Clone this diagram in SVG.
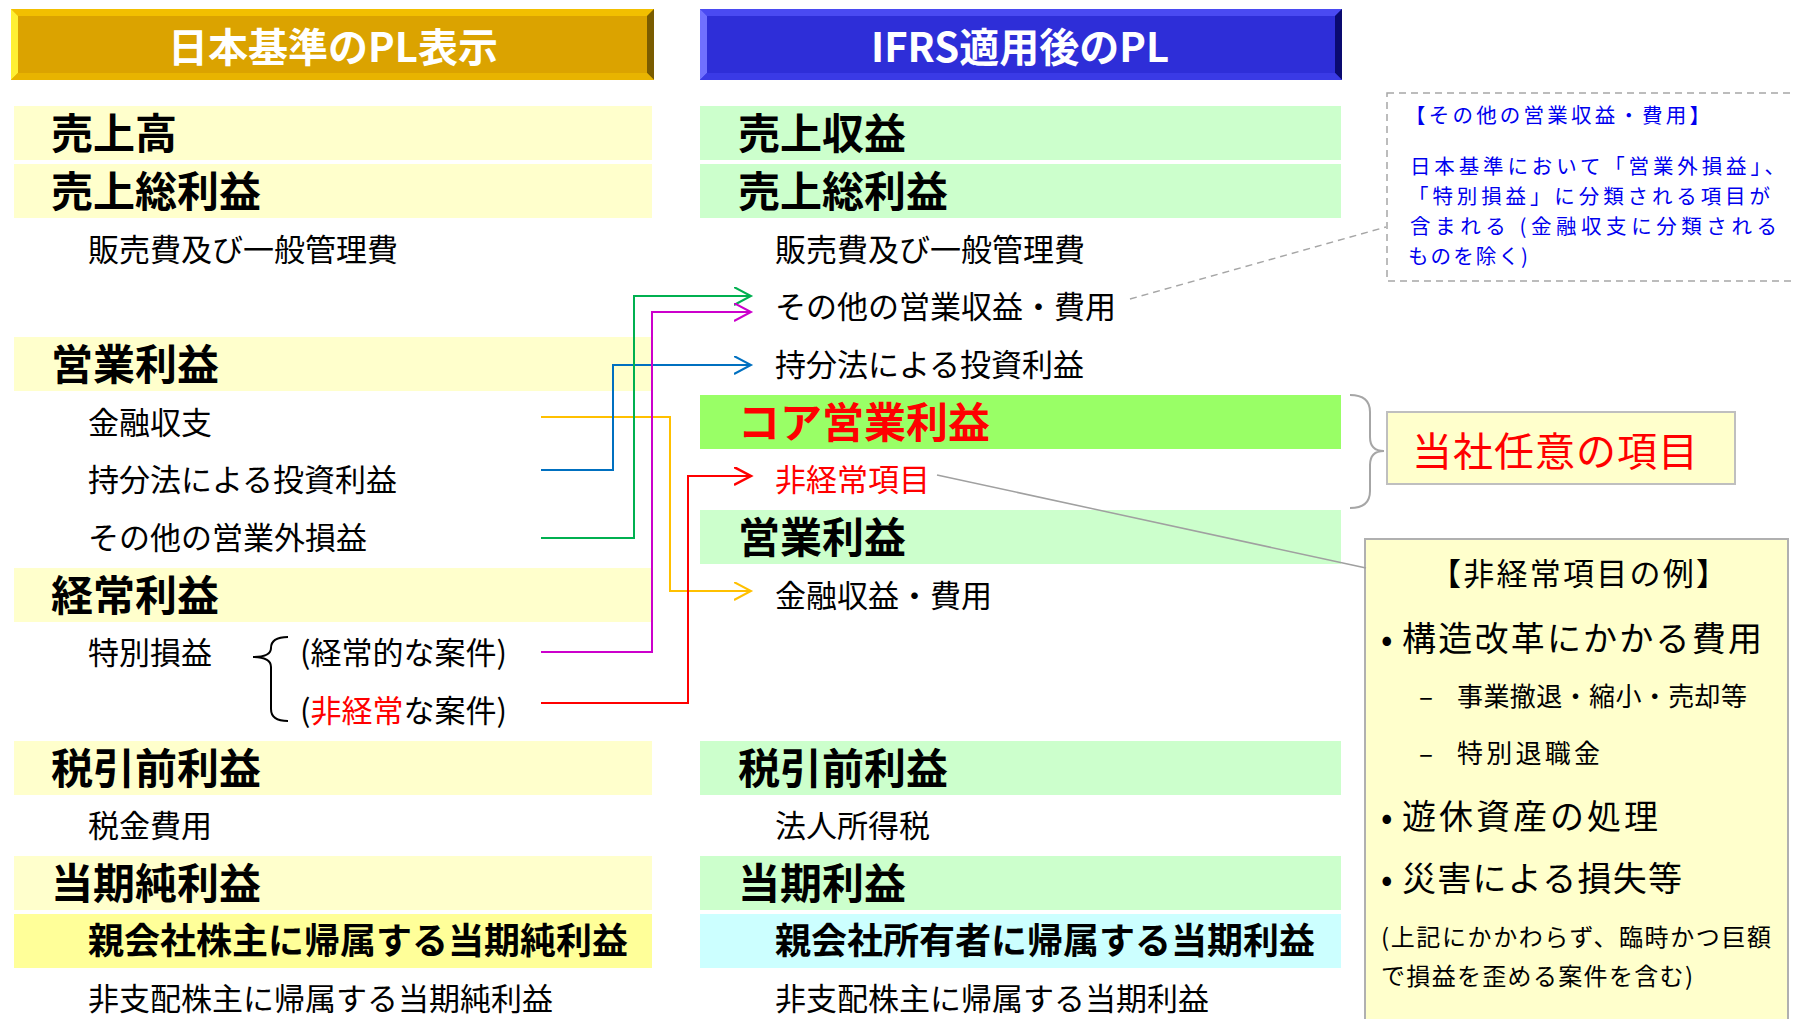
<svg xmlns="http://www.w3.org/2000/svg" width="1794" height="1019" viewBox="0 0 1794 1019">
<defs>
<style>
text{font-family:"Noto Sans CJK JP","Noto Sans CJK SC",sans-serif;fill:#000}
.hd{font-size:40px;font-weight:700;fill:#fff;text-anchor:middle}
.t{font-size:42px;font-weight:700}
.s{font-size:31px}
.m{font-size:36px;font-weight:700}
.red{fill:#ff0000}
.bl{fill:#0000ee;font-size:20.5px}
.ex1{font-size:34px}
.ex2{font-size:26px}
.ex3{font-size:24px}
.by{fill:#ffffcc}
.bg{fill:#ccffcc}
.conn{fill:none;stroke-width:2}
</style>
<marker id="aY" markerUnits="userSpaceOnUse" markerWidth="22" markerHeight="22" refX="17" refY="9" orient="auto"><path d="M0,0 L17,9 L0,18" fill="none" stroke="#ffc000" stroke-width="2"/></marker>
<marker id="aB" markerUnits="userSpaceOnUse" markerWidth="22" markerHeight="22" refX="17" refY="9" orient="auto"><path d="M0,0 L17,9 L0,18" fill="none" stroke="#0070c0" stroke-width="2"/></marker>
<marker id="aG" markerUnits="userSpaceOnUse" markerWidth="22" markerHeight="22" refX="17" refY="9" orient="auto"><path d="M0,0 L17,9 L0,18" fill="none" stroke="#00b050" stroke-width="2"/></marker>
<marker id="aM" markerUnits="userSpaceOnUse" markerWidth="22" markerHeight="22" refX="17" refY="9" orient="auto"><path d="M0,0 L17,9 L0,18" fill="none" stroke="#cc00cc" stroke-width="2"/></marker>
<marker id="aR" markerUnits="userSpaceOnUse" markerWidth="22" markerHeight="22" refX="17" refY="9" orient="auto"><path d="M0,0 L17,9 L0,18" fill="none" stroke="#ff0000" stroke-width="2.5"/></marker>
</defs>
<rect width="1794" height="1019" fill="#fff"/>

<!-- Headers -->
<g id="header-jp">
<rect x="11" y="9" width="643" height="71" fill="#dba300"/>
<polygon points="11,9 654,9 647,16 18,16" fill="#f2bf00"/>
<polygon points="11,9 18,16 18,73 11,80" fill="#fff033"/>
<polygon points="654,9 654,80 647,73 647,16" fill="#7a5c00"/>
<polygon points="11,80 18,73 647,73 654,80" fill="#e8b400"/>
<text class="hd" x="333" y="62">日本基準のPL表示</text>
</g>
<g id="header-ifrs">
<rect x="700" y="9" width="642" height="71" fill="#2e2ed8"/>
<polygon points="700,9 1342,9 1335,16 707,16" fill="#4a4af2"/>
<polygon points="700,9 707,16 707,73 700,80" fill="#7070ff"/>
<polygon points="1342,9 1342,80 1335,73 1335,16" fill="#0a0a70"/>
<polygon points="700,80 707,73 1335,73 1342,80" fill="#3a3ae6"/>
<text class="hd" x="1020" y="62">IFRS適用後のPL</text>
</g>

<!-- Left column -->
<g id="jp-sales"><rect class="by" x="14" y="106" width="638" height="54"/><text class="t" x="51" y="149">売上高</text></g>
<g id="jp-gross"><rect class="by" x="14" y="164" width="638" height="54"/><text class="t" x="51" y="207">売上総利益</text></g>
<g id="jp-sga"><text class="s" x="88" y="261">販売費及び一般管理費</text></g>
<g id="jp-op"><rect class="by" x="14" y="337" width="638" height="54"/><text class="t" x="51" y="380">営業利益</text></g>
<g id="jp-fin"><text class="s" x="88" y="434">金融収支</text></g>
<g id="jp-equity"><text class="s" x="88" y="491">持分法による投資利益</text></g>
<g id="jp-nonop"><text class="s" x="88" y="549">その他の営業外損益</text></g>
<g id="jp-ordinary"><rect class="by" x="14" y="568" width="638" height="54"/><text class="t" x="51" y="611">経常利益</text></g>
<g id="jp-special">
<text class="s" x="88" y="664">特別損益</text>
<path d="M288,637 Q271,637 271,648 Q271,657 253,657 Q271,657 271,667 L271,709 Q271,721 288,721" fill="none" stroke="#000" stroke-width="2"/>
<text class="s" x="300" y="664">(経常的な案件)</text>
<text class="s" x="300" y="722">(<tspan class="red">非経常</tspan>な案件)</text>
</g>
<g id="jp-pretax"><rect class="by" x="14" y="741" width="638" height="54"/><text class="t" x="51" y="784">税引前利益</text></g>
<g id="jp-tax"><text class="s" x="88" y="837">税金費用</text></g>
<g id="jp-net"><rect class="by" x="14" y="856" width="638" height="54"/><text class="t" x="51" y="899">当期純利益</text></g>
<g id="jp-parent"><rect x="14" y="914" width="638" height="54" fill="#ffff99"/><text class="m" x="88" y="954">親会社株主に帰属する当期純利益</text></g>
<g id="jp-nci"><text class="s" x="88" y="1010">非支配株主に帰属する当期純利益</text></g>

<!-- Right column -->
<g id="ifrs-revenue"><rect class="bg" x="700" y="106" width="641" height="54"/><text class="t" x="738" y="149">売上収益</text></g>
<g id="ifrs-gross"><rect class="bg" x="700" y="164" width="641" height="54"/><text class="t" x="738" y="207">売上総利益</text></g>
<g id="ifrs-sga"><text class="s" x="775" y="261">販売費及び一般管理費</text></g>
<g id="ifrs-otherop"><text class="s" x="775" y="318">その他の営業収益・費用</text></g>
<g id="ifrs-equity"><text class="s" x="775" y="376">持分法による投資利益</text></g>
<g id="ifrs-core"><rect x="700" y="395" width="641" height="54" fill="#99ff66"/><text class="t red" x="738" y="438">コア営業利益</text></g>
<g id="ifrs-nonrec"><text class="s red" x="775" y="491">非経常項目</text></g>
<g id="ifrs-op"><rect class="bg" x="700" y="510" width="641" height="54"/><text class="t" x="738" y="553">営業利益</text></g>
<g id="ifrs-fin"><text class="s" x="775" y="607">金融収益・費用</text></g>
<g id="ifrs-pretax"><rect class="bg" x="700" y="741" width="641" height="54"/><text class="t" x="738" y="784">税引前利益</text></g>
<g id="ifrs-tax"><text class="s" x="775" y="837">法人所得税</text></g>
<g id="ifrs-profit"><rect class="bg" x="700" y="856" width="641" height="54"/><text class="t" x="738" y="899">当期利益</text></g>
<g id="ifrs-parent"><rect x="700" y="914" width="641" height="54" fill="#ccffff"/><text class="m" x="775" y="954">親会社所有者に帰属する当期利益</text></g>
<g id="ifrs-nci"><text class="s" x="775" y="1010">非支配株主に帰属する当期利益</text></g>

<!-- Notes -->
<g id="note-otherop">
<rect x="1387" y="93" width="420" height="188" fill="none" stroke="#a6a6a6" stroke-width="1.5" stroke-dasharray="7,5"/>
<text class="bl" x="1405" y="123" textLength="305">【その他の営業収益・費用】</text>
<text class="bl" x="1410" y="174" textLength="375">日本基準において「営業外損益」、</text>
<text class="bl" x="1408" y="204" textLength="362">「特別損益」に分類される項目が</text>
<text class="bl" x="1410" y="234" textLength="367">含まれる (金融収支に分類される</text>
<text class="bl" x="1408" y="264" textLength="120">ものを除く)</text>
</g>
<g id="note-optional">
<path d="M1350,395 Q1370,395 1370,412 L1370,437 Q1370,451 1384,451 Q1370,451 1370,465 L1370,491 Q1370,508 1350,508" fill="none" stroke="#a6a6a6" stroke-width="2"/>
<rect x="1387" y="412" width="348" height="72" fill="#ffffcc" stroke="#bfbfbf" stroke-width="2"/>
<text class="red" x="1412" y="466" font-size="40" textLength="286">当社任意の項目</text>
</g>
<g id="note-examples">
<rect x="1365" y="539" width="423" height="500" fill="#ffffcc" stroke="#b0b0b0" stroke-width="2"/>
<text font-size="31" x="1430" y="585" textLength="297">【非経常項目の例】</text>
<text class="ex1" y="651"><tspan x="1381">•</tspan><tspan x="1402" textLength="360">構造改革にかかる費用</tspan></text>
<text class="ex2" y="706"><tspan x="1419">–</tspan><tspan x="1457" textLength="290">事業撤退・縮小・売却等</tspan></text>
<text class="ex2" y="763"><tspan x="1419">–</tspan><tspan x="1457" textLength="143">特別退職金</tspan></text>
<text class="ex1" y="829"><tspan x="1381">•</tspan><tspan x="1402" textLength="256">遊休資産の処理</tspan></text>
<text class="ex1" y="891"><tspan x="1381">•</tspan><tspan x="1402" textLength="280">災害による損失等</tspan></text>
<text class="ex3" x="1381" y="946" textLength="390">(上記にかかわらず、臨時かつ巨額</text>
<text class="ex3" x="1381" y="985" textLength="312">で損益を歪める案件を含む)</text>
</g>

<!-- Connectors -->
<g id="connectors">
<path class="conn" d="M541,417 H670 V591 H751" stroke="#ffc000" marker-end="url(#aY)"/>
<path class="conn" d="M541,470 H613 V365 H751" stroke="#0070c0" marker-end="url(#aB)"/>
<path class="conn" d="M541,538 H634 V296 H751" stroke="#00b050" marker-end="url(#aG)"/>
<path class="conn" d="M541,652 H652 V312 H751" stroke="#cc00cc" marker-end="url(#aM)"/>
<path class="conn" d="M541,703 H688 V476 H751" stroke="#ff0000" stroke-width="2.5" marker-end="url(#aR)"/>
<line x1="1130" y1="299" x2="1386" y2="227" stroke="#a6a6a6" stroke-width="1.5" stroke-dasharray="7,5"/>
<line x1="937" y1="475" x2="1366" y2="568" stroke="#a0a0a0" stroke-width="1.5"/>
</g>
</svg>
